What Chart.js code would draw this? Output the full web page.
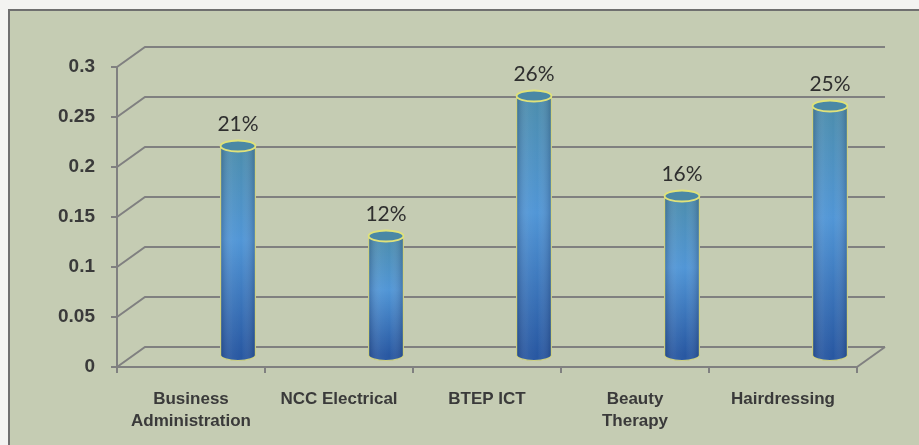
<!DOCTYPE html>
<html>
<head>
<meta charset="utf-8">
<script src="https://cdn.jsdelivr.net/npm/chart.js@4/dist/chart.umd.min.js"></script>
<style>
  body { margin: 0; background: #f3f3f1; }
  .wrap { position: relative; width: 919px; height: 445px; overflow: hidden; }
  .panel {
    position: absolute; left: 8px; top: 9px; width: 930px; height: 460px;
    background: #c5ccb3; border-left: 2px solid #6f6f6f; border-top: 2px solid #6f6f6f;
  }
  canvas { position: absolute; left: 0; top: 0; }
</style>
</head>
<body>
<div class="wrap">
  <div class="panel"></div>
  <canvas id="graf" width="919" height="445"></canvas>
</div>
<script>
// Data
const categories = [['Business', 'Administration'], 'NCC Electrical', 'BTEP ICT', ['Beauty', 'Therapy'], 'Hairdressing']
const shares = [0.21, 0.12, 0.26, 0.16, 0.25]
const shareLabels = ['21%', '12%', '26%', '16%', '25%']
const yTickLabels = ['0', '0.05', '0.1', '0.15', '0.2', '0.25', '0.3']

// 3d offsets (back wall and bar position)
const wallDx = 28, wallDy = -20
const barDx = 47, barDy = -11
const lineColor = '#808080'

// Back wall + floor
const wallPlugin = {
  id: 'wall',
  beforeDatasetsDraw(chart) {
    const ctx = chart.ctx
    const y = chart.scales.y
    const area = chart.chartArea
    ctx.save()
    ctx.strokeStyle = lineColor
    ctx.lineWidth = 2
    y.ticks.forEach(t => {
      const py = y.getPixelForValue(t.value)
      ctx.beginPath()
      ctx.moveTo(area.left, py)
      ctx.lineTo(area.left + wallDx, py + wallDy)
      ctx.lineTo(area.right + wallDx, py + wallDy)
      ctx.stroke()
    })
    // floor right edge
    const p0 = y.getPixelForValue(0)
    ctx.beginPath()
    ctx.moveTo(area.right, p0)
    ctx.lineTo(area.right + wallDx, p0 + wallDy)
    ctx.stroke()
    ctx.restore()
  }
}

// Cylinders
const cylinderPlugin = {
  id: 'cylinder',
  afterDatasetsDraw(chart) {
    const ctx = chart.ctx
    const meta = chart.getDatasetMeta(0)
    meta.data.forEach((bar, i) => {
      const cx = bar.x + barDx
      const rx = bar.width / 2
      const ry = 5.5
      const top = bar.y + barDy
      const bot = bar.base + barDy
      ctx.save()
      // body
      ctx.beginPath()
      ctx.moveTo(cx - rx, top)
      ctx.lineTo(cx - rx, bot)
      ctx.ellipse(cx, bot, rx, ry, 0, Math.PI, 0, true)
      ctx.lineTo(cx + rx, top)
      ctx.ellipse(cx, top, rx, ry, 0, 0, Math.PI, true)
      ctx.closePath()
      const g = ctx.createLinearGradient(0, top, 0, bot)
      g.addColorStop(0, '#4c8dac')
      g.addColorStop(0.45, '#5196d6')
      g.addColorStop(1, '#2858a2')
      ctx.fillStyle = g
      ctx.fill()
      const h = ctx.createLinearGradient(cx - rx, 0, cx + rx, 0)
      h.addColorStop(0, 'rgba(10,20,60,0.25)')
      h.addColorStop(0.35, 'rgba(255,255,255,0.04)')
      h.addColorStop(0.6, 'rgba(255,255,255,0)')
      h.addColorStop(1, 'rgba(10,20,60,0.25)')
      ctx.fillStyle = h
      ctx.fill()
      ctx.strokeStyle = 'rgba(214,214,130,0.9)'
      ctx.lineWidth = 1.2
      ctx.stroke()
      // top
      ctx.beginPath()
      ctx.ellipse(cx, top, rx, ry, 0, 0, Math.PI * 2)
      ctx.fillStyle = '#4a88a5'
      ctx.fill()
      ctx.strokeStyle = '#e0e27a'
      ctx.lineWidth = 1.8
      ctx.stroke()
      // value label
      ctx.fillStyle = '#2f2f2f'
      ctx.font = '21px Lato'
      ctx.textAlign = 'center'
      ctx.textBaseline = 'alphabetic'
      ctx.fillText(shareLabels[i], cx, top - 15)
      ctx.restore()
    })
  }
}

var ctx = document.getElementById('graf')
var myChart = new Chart(ctx, {
  type: 'bar',
  data: {
    labels: categories,
    datasets: [{
      data: shares,
      backgroundColor: 'rgba(0,0,0,0)',
      barPercentage: 0.235,
      categoryPercentage: 1
    }]
  },
  options: {
    responsive: false,
    animation: false,
    layout: { padding: { left: 0, top: 67, right: 62, bottom: 0 } },
    plugins: {
      legend: { display: false },
      tooltip: { enabled: false }
    },
    scales: {
      y: {
        min: 0,
        max: 0.3,
        ticks: {
          stepSize: 0.05,
          color: '#3a3a3a',
          font: { family: 'Liberation Sans', size: 19, weight: 'bold' },
          padding: 16,
          callback: (v, i) => yTickLabels[i]
        },
        grid: { drawOnChartArea: false, tickLength: 6, color: lineColor, lineWidth: 2 },
        border: { color: lineColor, width: 2 },
        afterFit: s => { s.width = 117 }
      },
      x: {
        ticks: {
          color: '#3a3a3a',
          font: { family: 'Liberation Sans', size: 17, weight: 'bold', lineHeight: 1.3 },
          padding: 15,
          maxRotation: 0,
          autoSkip: false
        },
        grid: { drawOnChartArea: false, tickLength: 6, color: lineColor, lineWidth: 2 },
        border: { color: lineColor, width: 2 },
        afterFit: s => { s.height = 78 }
      }
    }
  },
  plugins: [wallPlugin, cylinderPlugin]
})
</script>
</body>
</html>
